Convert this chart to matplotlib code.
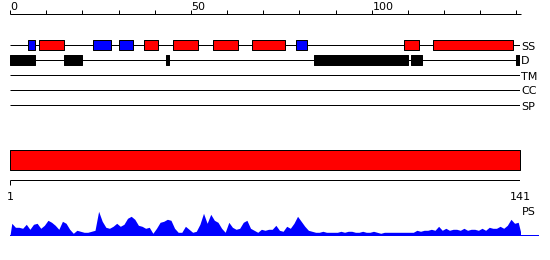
import matplotlib
matplotlib.use("Agg")
import matplotlib.pyplot as plt

# sequence length and feature tracks
SEQ_LEN = 141
TRACKS = ["SS", "D", "TM", "CC", "SP"]

# secondary structure (residue start, end)
HELIX = [(9, 15), (38, 41), (46, 52), (57, 63), (68, 76), (110, 113), (118, 139)]
STRAND = [(6, 7), (24, 28), (31, 34), (80, 82)]
# disordered regions
DISORDER = [(1, 7), (16, 20), (44, 44), (85, 110), (112, 114), (141, 141)]

RULER_TICKS = list(range(0, 141, 10))
RULER_LABELS = [0, 50, 100]

# per-residue PS profile
PS = [12, 8, 8, 7, 11, 6, 11, 12, 7, 10, 15, 13, 10, 6, 14, 12, 6, 2, 5, 4,
      3, 3, 4, 5, 24, 14, 8, 7, 9, 12, 9, 11, 17, 19, 16, 10,
      9, 7, 8, 2, 7, 13, 14, 16, 15, 7, 3, 3, 9, 6, 3, 4, 11, 22, 12, 21,
      15, 13, 7, 3, 13, 8, 6, 7, 13, 15, 7, 5, 3, 6, 5, 6,
      6, 10, 5, 4, 9, 7, 12, 19, 14, 9, 5, 4, 3, 3, 4, 3, 3, 3, 3, 4,
      3, 4, 4, 3, 3, 4, 3, 3, 4, 3, 2, 3, 3, 3, 3, 3,
      3, 3, 3, 3, 5, 4, 5, 5, 6, 5, 9, 5, 7, 5, 6, 6, 5, 7, 5, 6,
      6, 5, 7, 5, 8, 7, 7, 9, 7, 10, 16, 12, 13]

W, H = 550, 260
PX = 0.72  # one pixel in points
FS = 8

fig = plt.figure(figsize=(W / 100, H / 100), dpi=100)
fig.patch.set_facecolor("white")

ax = fig.add_axes([10 / W, 0, 510 / W, 1])
ax.set_xlim(0, SEQ_LEN)
ax.set_ylim(H, 0)
ax.axis("off")

# top ruler
ax.hlines(14.3, 0, SEQ_LEN + 0.3, color="black", lw=PX, clip_on=False)
ax.vlines(RULER_TICKS, 10, 14.3, color="black", lw=PX)
for t in RULER_LABELS:
    ax.text(t + 0.2, 10.3, str(t), ha="left", va="baseline", fontsize=FS)

# tracks
for i, name in enumerate(TRACKS):
    y = 45.3 + 15 * i
    ax.hlines(y, 0, SEQ_LEN, color="black", lw=PX, zorder=1)
    ax.text(SEQ_LEN + 0.3, y + 4.2, name, ha="left", va="baseline",
            fontsize=FS, clip_on=False)

def boxes(ranges):
    return [(s - 1, e - s + 1) for s, e in ranges]

ax.broken_barh(boxes(HELIX), (40.3, 10), facecolors="#ff0000",
               edgecolors="black", lw=PX, zorder=2)
ax.broken_barh(boxes(STRAND), (40.3, 10), facecolors="#0000ff",
               edgecolors="black", lw=PX, zorder=2)
ax.broken_barh(boxes(DISORDER), (55.3, 10), facecolors="black",
               edgecolors="black", lw=PX, zorder=2)

# full-length bar
ax.broken_barh([(0, SEQ_LEN)], (150.3, 20), facecolors="#ff0000",
               edgecolors="black", lw=PX)

# bottom ruler
ax.hlines(180.3, 0, SEQ_LEN, color="black", lw=PX)
ax.vlines([0, SEQ_LEN], 180.3, 184.5, color="black", lw=PX)
ax.text(0.2, 200, "1", ha="center", va="baseline", fontsize=FS)
ax.text(SEQ_LEN, 200, str(SEQ_LEN), ha="center", va="baseline", fontsize=FS)
ax.text(SEQ_LEN + 0.4, 215, "PS", ha="left", va="baseline", fontsize=FS,
        clip_on=False)

# PS profile
ax2 = fig.add_axes([10 / W, (H - 235.3) / H, 510 / W, 30 / H])
ax2.set_xlim(0, SEQ_LEN)
ax2.set_ylim(0, 30)
ax2.axis("off")
xs = [0] + [r + 0.5 for r in range(len(PS))] + [SEQ_LEN + 0.4]
ys = [0] + PS + [0]
ax2.fill_between(xs, 0, ys, color="#0000ff", lw=0)
ax2.plot([0, SEQ_LEN + 4.9], [0, 0], color="#0000ff", lw=PX, clip_on=False)

fig.savefig("out.png", dpi=100)
